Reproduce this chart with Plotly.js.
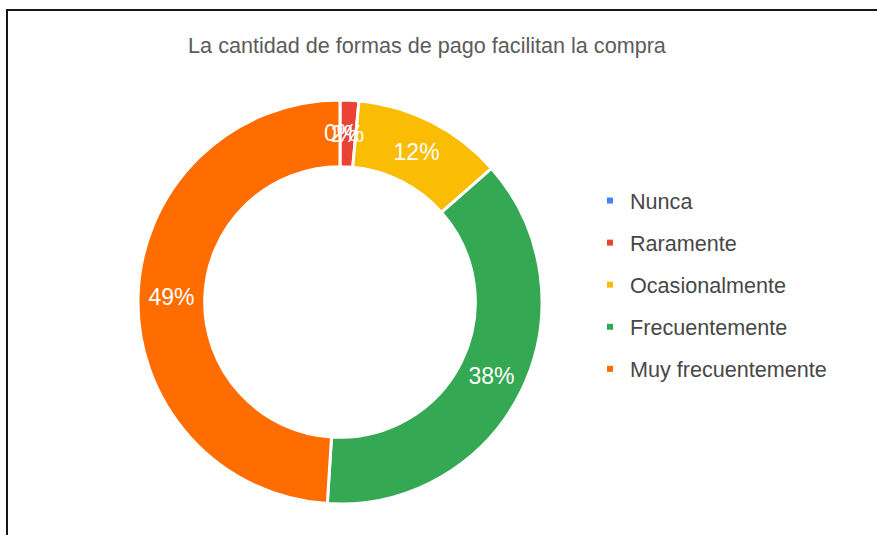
<!DOCTYPE html>
<html>
<head>
<meta charset="utf-8">
<script src="https://cdn.plot.ly/plotly-3.0.1.min.js"></script>
<style>
  html, body { margin: 0; padding: 0; background: #fff; }
  #wrap { position: relative; width: 877px; height: 535px; overflow: hidden; }
  #chart { position: absolute; left: 0; top: 0; width: 877px; height: 535px; }
  #frame { position: absolute; left: 6px; top: 9px; width: 880px; height: 540px;
           border-top: 2px solid #161616; border-left: 2px solid #161616; pointer-events: none; }
</style>
</head>
<body>
<div id="wrap">
  <div id="chart"></div>
  <div id="frame"></div>
</div>
<script>
// ---- data ----
var chartTitle = 'La cantidad de formas de pago facilitan la compra';
var categories = ['Nunca', 'Raramente', 'Ocasionalmente', 'Frecuentemente', 'Muy frecuentemente'];
var values = [0, 1.5, 12, 37.5, 49];
var colors = ['#4285F4', '#EA4335', '#FBBC04', '#34A853', '#FF6D01'];

var FONT = 'Liberation Sans, Arial, sans-serif';
var W = 877, H = 535;
var HOLE = 0.67;
var PIE_PX = { x0: 138, x1: 542, y0: 100, y1: 504 };   // pie box in pixels
var SMALL = 0.05;                                       // slices below this share get a label placed at mid-ring

var total = values.reduce(function (a, b) { return a + b; }, 0);
var fmtPct = function (v) { return Math.round(v * 100 / total + 1e-9) + '%'; };

// native labels for normal slices, mid-ring annotations for thin/empty slices
var templates = values.map(function (v) { return (v / total < SMALL) ? '' : '%{percent:.0%}'; });

var cx = (PIE_PX.x0 + PIE_PX.x1) / 2, cy = (PIE_PX.y0 + PIE_PX.y1) / 2;
var rOuter = (PIE_PX.x1 - PIE_PX.x0) / 2;
var rMid = rOuter * (1 + HOLE) / 2;
var annotations = [];
var cum = 0;
values.forEach(function (v, i) {
  var mid = (cum + v / 2) / total;
  cum += v;
  if (v / total >= SMALL) return;
  var ang = mid * 2 * Math.PI; // clockwise from 12 o'clock
  var px = cx + rMid * Math.sin(ang);
  var py = cy - rMid * Math.cos(ang);
  annotations.push({
    xref: 'paper', yref: 'paper',
    x: px / W, y: 1 - py / H,
    xanchor: 'center', yanchor: 'middle',
    text: fmtPct(v), showarrow: false,
    font: { family: FONT, size: 23, color: '#ffffff' }
  });
});

var pie = {
  type: 'pie',
  labels: categories,
  values: values,
  sort: false,
  direction: 'clockwise',
  rotation: 0,
  hole: HOLE,
  marker: { colors: colors, line: { color: '#ffffff', width: 3 } },
  texttemplate: templates,
  textposition: 'inside',
  insidetextorientation: 'horizontal',
  textfont: { family: FONT, size: 23, color: '#ffffff' },
  showlegend: false,
  domain: { x: [PIE_PX.x0 / W, PIE_PX.x1 / W], y: [1 - PIE_PX.y1 / H, 1 - PIE_PX.y0 / H] },
  hoverinfo: 'label+percent'
};

// legend entries built from the same categories / colours
var legendTraces = categories.map(function (c, i) {
  return {
    type: 'scatter',
    mode: 'markers',
    x: [null], y: [null],
    name: c,
    legendgroup: 'g' + i,
    marker: { symbol: 'square', size: 6, color: colors[i] },
    hoverinfo: 'skip',
    showlegend: true
  };
});

var layout = {
  width: W,
  height: H,
  margin: { l: 0, r: 0, t: 0, b: 0 },
  paper_bgcolor: 'rgba(0,0,0,0)',
  plot_bgcolor: 'rgba(0,0,0,0)',
  title: {
    text: chartTitle,
    font: { family: FONT, size: 21.6, color: '#5b5b5b' },
    x: 427 / W, xanchor: 'center',
    y: 1 - 45 / H, yanchor: 'middle'
  },
  xaxis: { visible: false, domain: [0.99, 1] },
  yaxis: { visible: false, domain: [0.99, 1] },
  showlegend: true,
  legend: {
    x: 590 / W, xanchor: 'left',
    y: 1 - 180 / H, yanchor: 'top',
    traceorder: 'grouped',
    tracegroupgap: 11,
    itemwidth: 30,
    font: { family: FONT, size: 21.6, color: '#474747' },
    bgcolor: 'rgba(0,0,0,0)'
  },
  annotations: annotations
};

Plotly.newPlot('chart', [pie].concat(legendTraces), layout, { displayModeBar: false, staticPlot: true });
</script>
</body>
</html>
